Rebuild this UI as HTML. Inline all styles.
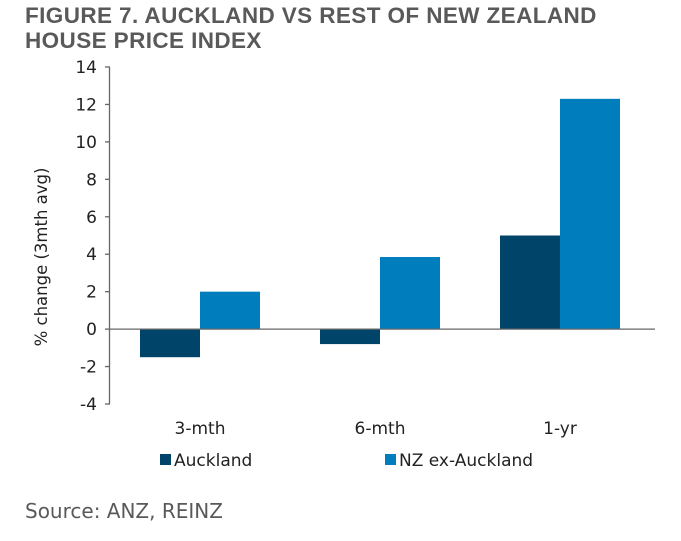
<!DOCTYPE html>
<html><head><meta charset="utf-8"><style>
body{margin:0;background:#fff;width:681px;height:541px;overflow:hidden;font-family:"DejaVu Sans","Liberation Sans",sans-serif}
#t{position:absolute;left:25px;top:3px;font:bold 22.5px "Liberation Sans",sans-serif;color:#595959;line-height:25px;letter-spacing:0.4px}
#s{position:absolute;left:25px;top:499px;font-size:20px;color:#595959}
</style></head><body>
<div id="t">FIGURE 7. AUCKLAND VS REST OF NEW ZEALAND<br>HOUSE PRICE INDEX</div>
<svg id="c" width="681" height="541" style="position:absolute;left:0;top:0"></svg>
<div id="s">Source: ANZ, REINZ</div>
<script>
const categories=["3-mth","6-mth","1-yr"];
const auckland=[-1.5,-0.8,5.0];
const nzExAuckland=[2.0,3.85,12.3];
const yTicks=[-4,-2,0,2,4,6,8,10,12,14];
const ns="http://www.w3.org/2000/svg",svg=document.getElementById('c');
const x0=110,x1=650,yMin=-4,yMax=14,pTop=67,pBot=404;
const y=v=>pBot-(v-yMin)/(yMax-yMin)*(pBot-pTop);
const cw=(x1-x0)/categories.length;
function mk(t,a,txt){const e=document.createElementNS(ns,t);for(const k in a)e.setAttribute(k,a[k]);if(txt!=null)e.textContent=txt;svg.appendChild(e);return e;}
categories.forEach((c,i)=>{
 const cx=x0+cw*i;
 let v=auckland[i];
 let b=mk('rect',{x:cx+cw/6,y:Math.min(y(v),y(0)),width:cw/3,height:Math.abs(y(v)-y(0)),fill:'#004469'});
 
 
 v=nzExAuckland[i];
 b=mk('rect',{x:cx+cw/2,y:Math.min(y(v),y(0)),width:cw/3,height:Math.abs(y(v)-y(0)),fill:'#007dbd'});
 
 
 const l=mk('text',{x:cx+cw/2,y:434,'text-anchor':'middle','font-size':17,fill:'#222'},c);
 
 
});
mk('line',{x1:x0-0.5,x2:x0-0.5,y1:pTop,y2:pBot,stroke:'#666','stroke-width':1.3});
mk('line',{x1:x0,x2:x1+5,y1:y(0),y2:y(0),stroke:'#666','stroke-width':1.3});
yTicks.forEach(v=>{
 mk('line',{x1:x0-5,x2:x0,y1:y(v),y2:y(v),stroke:'#666','stroke-width':1.3});
 const t=mk('text',{x:x0-13,y:y(v)+6,'text-anchor':'end','font-size':17,fill:'#222'},v);
 
 
});
const yt=mk('text',{x:0,y:0,transform:'translate(47,257) rotate(-90)','text-anchor':'middle','font-size':16.5,fill:'#222'},'% change (3mth avg)');


[[160,'#004469','Auckland'],[385,'#007dbd','NZ ex-Auckland']].forEach(([lx,col,n])=>{
 const g=mk('g',{});
 
 
 const r=document.createElementNS(ns,'rect');r.setAttribute('x',lx);r.setAttribute('y',454);r.setAttribute('width',11);r.setAttribute('height',11);r.setAttribute('fill',col);g.appendChild(r);
 const t=document.createElementNS(ns,'text');t.setAttribute('x',lx+14);t.setAttribute('y',466);t.setAttribute('font-size',17);t.setAttribute('fill','#222');t.textContent=n;g.appendChild(t);
});
</script>
</body></html>
